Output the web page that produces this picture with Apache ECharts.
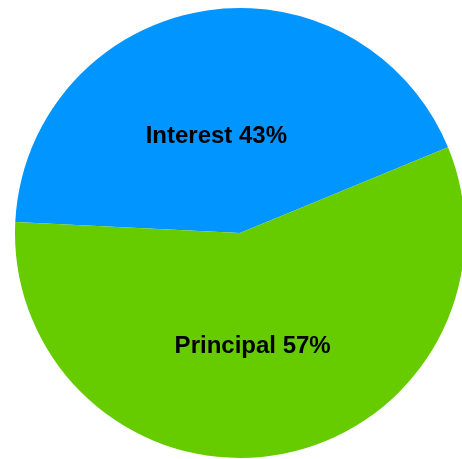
<!DOCTYPE html>
<html>
<head>
<meta charset="utf-8">
<style>
  html, body { margin: 0; padding: 0; background: #ffffff; }
  #chart { width: 462px; height: 459px; }
</style>
<script src="https://cdn.jsdelivr.net/npm/echarts@6/dist/echarts.min.js"></script>
</head>
<body>
<div id="chart"></div>
<script>
const categories = ['Interest', 'Principal'];
const values = [43, 57];
const colors = ['#0095FF', '#66CC00'];
const labelOffsets = [[-4, 17], [-7, 0]];

const chart = echarts.init(document.getElementById('chart'), null, { renderer: 'canvas' });
chart.setOption({
  animation: false,
  backgroundColor: '#ffffff',
  series: [{
    type: 'pie',
    center: [240, 233],
    radius: [0, 225],
    startAngle: 177.2,
    clockwise: true,
    avoidLabelOverlap: false,
    itemStyle: { borderWidth: 0 },
    emphasis: { disabled: true },
    label: {
      show: true,
      position: 'inside',
      formatter: function (p) { return p.name + ' ' + p.value + '%'; },
      fontFamily: 'Liberation Sans, Arial, sans-serif',
      fontWeight: 'bold',
      fontSize: 24,
      color: '#000000'
    },
    labelLine: { show: false },
    data: categories.map((c, i) => ({
      name: c,
      value: values[i],
      itemStyle: { color: colors[i] },
      label: { offset: labelOffsets[i] }
    }))
  }]
});
</script>
</body>
</html>
